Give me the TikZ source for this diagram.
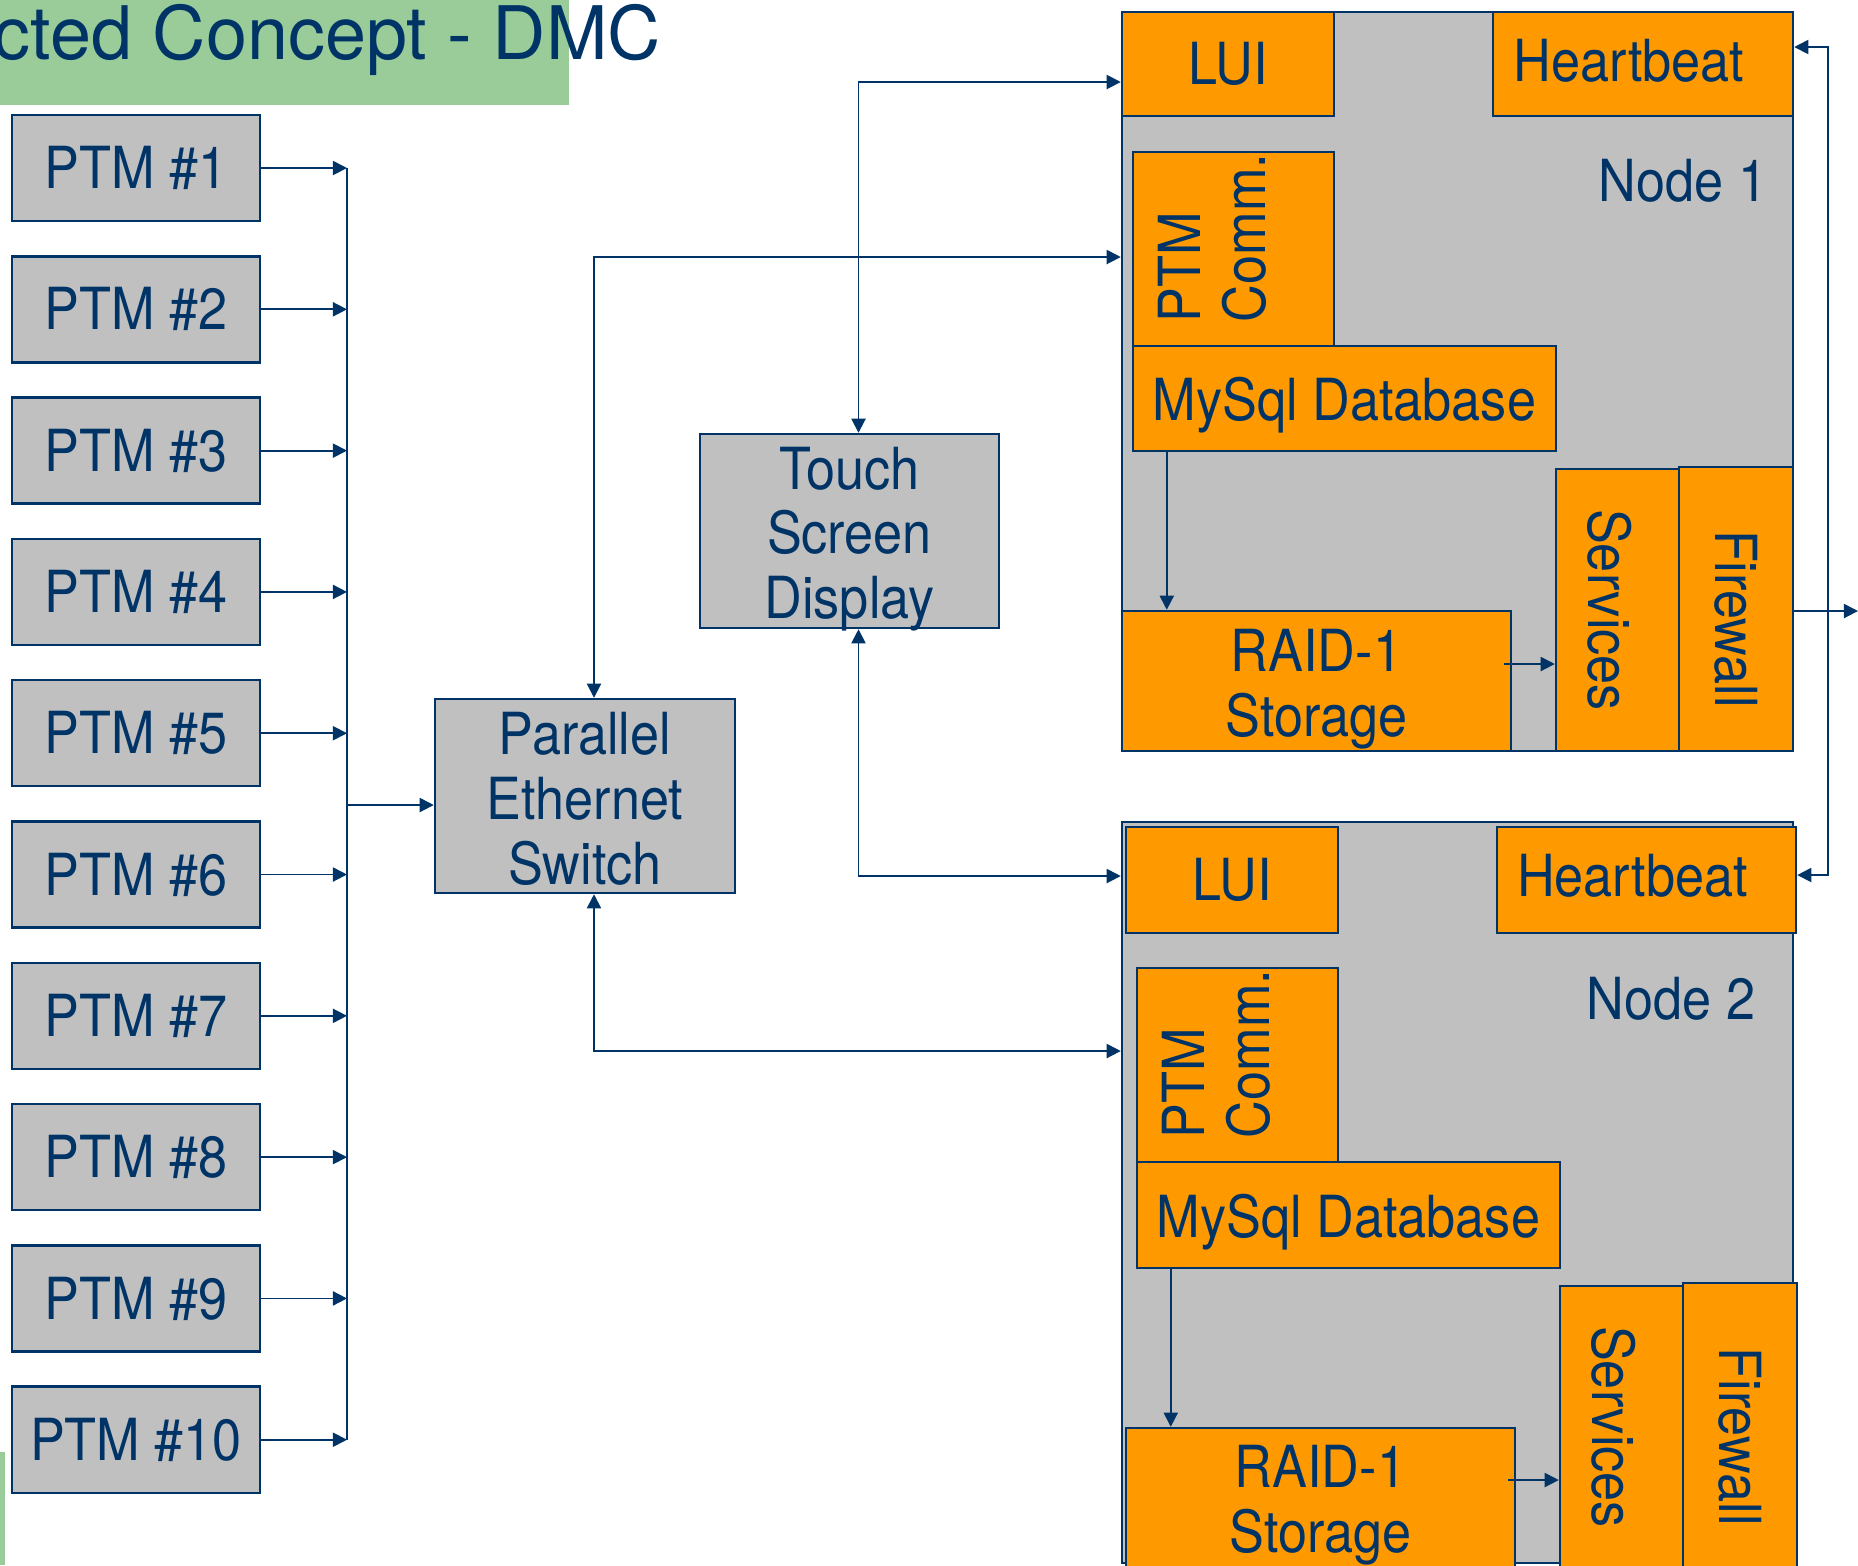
\documentclass[tikz,border=0pt]{standalone}
\usepackage{fontspec}
\setmainfont{TeX Gyre Heros}[FakeStretch=0.9]
\newfontfamily\titlefont{TeX Gyre Heros}
\usetikzlibrary{arrows.meta,fit,calc}
\definecolor{dkblue}{HTML}{003366}
\definecolor{boxgray}{HTML}{C0C0C0}
\definecolor{boxorange}{HTML}{FF9900}
\definecolor{titlegreen}{HTML}{99CC99}
\begin{document}
\begin{tikzpicture}[x=0.01cm,y=-0.01cm,>={Triangle[length=4pt,width=4pt]},
  graybox/.style={draw=dkblue,fill=boxgray,line width=0.7pt,inner sep=0pt,text=dkblue,align=center},
  orangebox/.style={graybox,fill=boxorange},
  conn/.style={draw=dkblue,line width=0.5pt},
  every label/.style={text=dkblue,align=center},
  font=\fontsize{16.5}{18.4}\selectfont]
\useasboundingbox (0,0) rectangle (1858,1565);
\clip (0,0) rectangle (1858,1565);
% title bar
\fill[titlegreen] (0,0) rectangle (569,105);
\fill[titlegreen] (0,1452) rectangle (5,1565);
\node[anchor=base west,inner sep=0pt,text=dkblue,font=\titlefont\fontsize{21}{24}\selectfont] (title) at (-7,59) {cted Concept - DMC};
% PTM boards and bus
\coordinate (bus) at (347,0);
\foreach \i in {1,...,10}{
  \node[graybox,minimum width=2.48cm,minimum height=1.06cm] (ptm\i) at (136,{168+141.3*(\i-1)}) {PTM \#\i};
  \draw[conn,->] (ptm\i.east) -- (ptm\i.east -| bus);
}
\draw[conn] (ptm1.east -| bus) -- (ptm10.east -| bus);
\node[graybox,fit={(435,699) (735,893)},label={[yshift=-0.03cm]center:Parallel\\Ethernet\\Switch}] (sw) {};
\node[graybox,fit={(700,434) (999,628)},label={[yshift=-0.08cm]center:Touch\\Screen\\Display}] (ts) {};
\coordinate (busout) at (347,805);
\draw[conn,->] (busout) -- (busout -| sw.west);
% node 1
\node[graybox,fit={(1122,12) (1793,751)}] (n1) {};
\node[orangebox,fit={(1122,12) (1334,116)},label=center:LUI] (lui1) {};
\node[orangebox,fit={(1493,12) (1793,116)},label={[xshift=-0.14cm,yshift=0.03cm]center:Heartbeat}] (hb1) {};
\node[text=dkblue] (lab1) at (1683,181) {Node 1};
\node[orangebox,fit={(1133,152) (1334,346)}] (pc1) {};
\node[text=dkblue,rotate=90,align=left] (pctext1) at ($(pc1)+(-21,-11)$) {PTM\\Comm.};
\node[orangebox,fit={(1133,346) (1556,451)},label={[yshift=-0.07cm]center:MySql Database}] (db1) {};
\node[orangebox,fit={(1122,611) (1511,751)},label={[yshift=-0.08cm]center:RAID-1\\Storage}] (raid1) {};
\node[orangebox,fit={(1556,469) (1679,751)}] (sv1) {};
\node[text=dkblue,rotate=-90] (svtext1) at ($(sv1)+(-8,0)$) {Services};
\node[orangebox,fit={(1679,467) (1793,751)}] (fw1) {};
\node[text=dkblue,rotate=-90] (fwtext1) at ($(fw1)+(0,10)$) {Firewall};
% node 2
\node[graybox,fit={(1122,822) (1793,1563)}] (n2) {};
\node[orangebox,fit={(1126,827) (1338,933)},label=center:LUI] (lui2) {};
\node[orangebox,fit={(1497,827) (1796,933)},label={[xshift=-0.14cm,yshift=0.04cm]center:Heartbeat}] (hb2) {};
\node[text=dkblue] (lab2) at (1671,999) {Node 2};
\node[orangebox,fit={(1137,968) (1338,1162)}] (pc2) {};
\node[text=dkblue,rotate=90,align=left] (pctext2) at ($(pc2)+(-21,-11)$) {PTM\\Comm.};
\node[orangebox,fit={(1137,1162) (1560,1268)},label={[yshift=-0.07cm]center:MySql Database}] (db2) {};
\node[orangebox,fit={(1126,1428) (1515,1568)},label={[yshift=-0.07cm]center:RAID-1\\Storage}] (raid2) {};
\node[orangebox,fit={(1560,1286) (1683,1568)}] (sv2) {};
\node[text=dkblue,rotate=-90] (svtext2) at ($(sv2)+(-8,0)$) {Services};
\node[orangebox,fit={(1683,1283) (1797,1568)}] (fw2) {};
\node[text=dkblue,rotate=-90] (fwtext2) at ($(fw2)+(0,11)$) {Firewall};
% links between boxes
\draw[conn,<->] ($(ts.north)+(9,0)$) |- ($(lui1.west)+(0,18)$);
\draw[conn,<->] ($(sw.north)+(9,0)$) |- ($(n1.west |- pc1)+(0,8)$);
\draw[conn,<->] ($(ts.south)+(9,0)$) |- ($(n2.west |- lui2)+(0,-4)$);
\draw[conn,<->] ($(sw.south)+(9,0)$) |- ($(n2.west |- pc2)+(0,-14)$);
\draw[conn,->] ($(db1.south west)+(35,0)$) coordinate (d1) -- (d1 |- raid1.north);
\draw[conn,->] ($(raid1.east)+(-8,-17)$) coordinate (r1) -- (r1 -| sv1.west);
\draw[conn,->] ($(db2.south west)+(35,0)$) coordinate (d2) -- (d2 |- raid2.north);
\draw[conn,->] ($(raid2.east)+(-8,-18)$) coordinate (r2) -- (r2 -| sv2.west);
\coordinate (out) at (1858,0);
\draw[conn,->] ($(fw1.east)+(0,2)$) coordinate (f1) -- (f1 -| out);
\coordinate (hbline) at (1828,400);
\draw[conn,<->] ($(hb1.east)+(0,-17)$) -| (hbline) |- ($(hb2.east)+(0,-5)$);
\end{tikzpicture}
\end{document}
